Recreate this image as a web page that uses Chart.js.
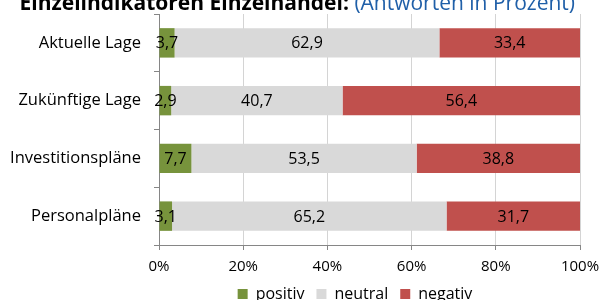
<!DOCTYPE html>
<html>
<head>
<meta charset="utf-8">
<script src="https://cdn.jsdelivr.net/npm/chart.js@4"></script>
<style>
  html, body { margin: 0; padding: 0; background: #fff; overflow: hidden; }
  #wrap { position: relative; width: 609px; height: 312px; }
  #titel {
    position: absolute; top: -10px; right: 34px; white-space: nowrap;
    font-family: "Open Sans", sans-serif; font-size: 21px; line-height: 24px;
  }
  #titel b { color: #000; }
  #titel span { color: #1f5fa8; }
</style>
</head>
<body>
<div id="wrap">
  <div id="titel"><b>Einzelindikatoren Einzelhandel:</b> <span>(Antworten in Prozent)</span></div>
  <canvas id="chart" width="609" height="312"></canvas>
</div>
<script>
/* ---------- Daten ---------- */
const KATEGORIEN = ["Aktuelle Lage", "Zukünftige Lage", "Investitionspläne", "Personalpläne"];
const POSITIV = [3.7, 2.9, 7.7, 3.1];
const NEUTRAL = [62.9, 40.7, 53.5, 65.2];
const NEGATIV = [33.4, 56.4, 38.8, 31.7];
const X_TICKS = [0, 20, 40, 60, 80, 100];

const COR = {
  positiv: "#77933c",
  neutral: "#d9d9d9",
  negativ: "#c0504d",
  achse: "#868686",
  grid: "#d4d4d4",
  text: "#000",
};

const FONT = "'Open Sans', sans-serif";
const LEGENDE_VERSATZ = 65; // Legende sitzt rechts der Mitte (unter der Zeichenfläche)

// Werte mittig in die Balken schreiben (Dezimalkomma)
const wertLabels = {
  id: "wertLabels",
  afterDatasetsDraw(chart) {
    const ctx = chart.ctx;
    ctx.save();
    ctx.font = "16px " + FONT;
    ctx.fillStyle = COR.text;
    ctx.textAlign = "center";
    ctx.textBaseline = "middle";
    chart.data.datasets.forEach((ds, i) => {
      chart.getDatasetMeta(i).data.forEach((bar, j) => {
        const x = (bar.x + bar.base) / 2;
        ctx.fillText(ds.data[j].toFixed(1).replace(".", ","), x, bar.y + 1);
      });
    });
    ctx.restore();
  },
};

const legendeVerschieben = {
  id: "legendeVerschieben",
  afterLayout(chart) {
    chart.legend.left += LEGENDE_VERSATZ;
    chart.legend.right += LEGENDE_VERSATZ;
  },
};

new Chart(document.getElementById("chart"), {
  type: "bar",
  data: {
    labels: KATEGORIEN,
    datasets: [
      { label: "positiv", data: POSITIV, backgroundColor: COR.positiv },
      { label: "neutral", data: NEUTRAL, backgroundColor: COR.neutral },
      { label: "negativ", data: NEGATIV, backgroundColor: COR.negativ },
    ],
  },
  options: {
    indexAxis: "y",
    responsive: false,
    animation: false,
    datasets: { bar: { categoryPercentage: 1, barPercentage: 0.51 } },
    layout: { padding: { top: 14, right: 29, left: 0, bottom: 0 } },
    plugins: {
      legend: {
        position: "bottom",
        labels: {
          font: { family: FONT, size: 16 },
          color: COR.text,
          boxWidth: 10,
          boxHeight: 10,
          padding: 12,
        },
      },
      tooltip: { enabled: false },
    },
    scales: {
      x: {
        stacked: true,
        min: 0,
        max: 100,
        afterBuildTicks: (s) => { s.ticks = X_TICKS.map((v) => ({ value: v })); },
        afterFit: (s) => {
          s.height = 29;
          s.paddingLeft = 0;
          s.paddingRight = 0;
        },
        ticks: {
          callback: (v) => v + "%",
          font: { family: FONT, size: 15 },
          color: COR.text,
          padding: 8,
          maxRotation: 0,
        },
        grid: {
          color: COR.grid,
          borderDash: [2, 2],
          tickColor: COR.achse,
          tickBorderDash: [],
          tickLength: 5,
        },
        border: { color: COR.achse, width: 1 },
      },
      y: {
        stacked: true,
        afterFit: (s) => {
          s.width = 159;
          s.paddingTop = 0;
          s.paddingBottom = 0;
        },
        ticks: {
          font: { family: FONT, size: 16.5 },
          color: COR.text,
          padding: 13,
        },
        grid: {
          offset: true,
          drawOnChartArea: false,
          tickColor: COR.achse,
          tickLength: 5,
        },
        border: { color: COR.achse, width: 1 },
      },
    },
  },
  plugins: [wertLabels, legendeVerschieben],
});
</script>
</body>
</html>
